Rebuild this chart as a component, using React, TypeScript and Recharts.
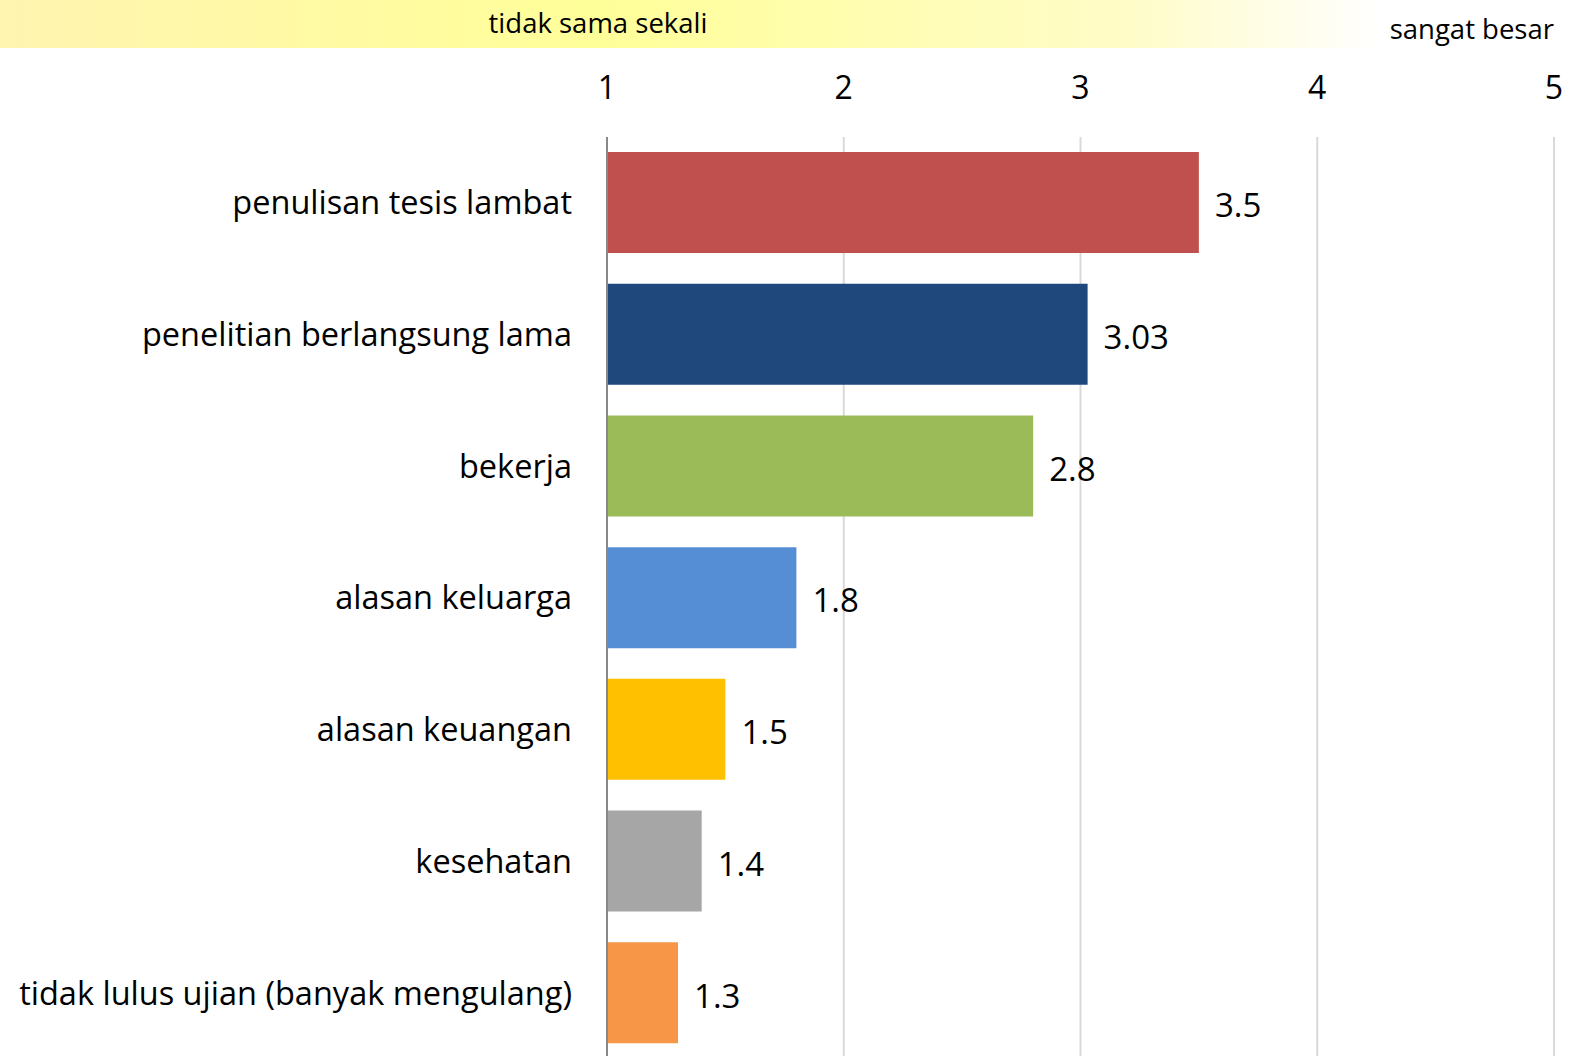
import { BarChart, Bar, XAxis, YAxis, CartesianGrid, Cell, LabelList } from "recharts";

const categories = [
  "penulisan tesis lambat",
  "penelitian berlangsung lama",
  "bekerja",
  "alasan keluarga",
  "alasan keuangan",
  "kesehatan",
  "tidak lulus ujian (banyak mengulang)",
];
const scores = [3.5, 3.03, 2.8, 1.8, 1.5, 1.4, 1.3];
const barColors = ["#C0504D", "#1F497D", "#9BBB59", "#558ED5", "#FFC000", "#A6A6A6", "#F79646"];
const scaleTicks = [1, 2, 3, 4, 5];
const scaleLow = "tidak sama sekali";
const scaleHigh = "sangat besar";

const FONT = "'Open Sans', 'Noto Sans', sans-serif";

const data = categories.map((name, i) => ({ name, score: scores[i] }));

function TopTick({ x, payload }: any) {
  return (
    <text x={x} y={99} textAnchor="middle" fontSize={32} fill="#000" fontFamily={FONT}>
      {payload.value}
    </text>
  );
}

function CatTick({ y, payload }: any) {
  return (
    <text x={572} y={y} dy="0.35em" textAnchor="end" fontSize={32.5} fill="#000" fontFamily={FONT}>
      {payload.value}
    </text>
  );
}

export default function App() {
  return (
    <div
      style={{
        position: "absolute",
        left: 0,
        top: 0,
        width: 1571,
        height: 1056,
        overflow: "hidden",
        background: "#fff",
        fontFamily: FONT,
      }}
    >
      {/* scale band on top */}
      <div
        style={{
          position: "absolute",
          left: 0,
          top: 0,
          width: 1571,
          height: 48,
          background:
            "linear-gradient(to right, #fff4b0 0%, #ffff99 38%, #fffcc8 72%, #ffffff 88%)",
        }}
      >
        <span style={{ position: "absolute", left: 598, top: 22, transform: "translate(-50%, -50%)", fontSize: 27.5, whiteSpace: "nowrap" }}>
          {scaleLow}
        </span>
        <span style={{ position: "absolute", right: 17, top: 28, transform: "translateY(-50%)", fontSize: 27.5, whiteSpace: "nowrap" }}>
          {scaleHigh}
        </span>
      </div>
      <div style={{ position: "absolute", left: 0, top: 0 }}>
        <BarChart
          width={1571}
          height={1062}
          data={data}
          layout="vertical"
          margin={{ top: 0, right: 17, bottom: 3, left: 0 }}
        >
          <CartesianGrid horizontal={false} stroke="#d9d9d9" strokeWidth={2} />
          <XAxis
            type="number"
            orientation="top"
            domain={[1, 5]}
            ticks={scaleTicks}
            height={137}
            axisLine={false}
            tickLine={false}
            tick={<TopTick />}
            interval={0}
          />
          <YAxis
            type="category"
            dataKey="name"
            width={607}
            axisLine={{ stroke: "#888", strokeWidth: 2 }}
            tickLine={false}
            tick={<CatTick />}
            interval={0}
          />
          <Bar dataKey="score" barSize={101} isAnimationActive={false}>
            {data.map((d, i) => (
              <Cell key={d.name} fill={barColors[i]} />
            ))}
            <LabelList
              dataKey="score"
              position="right"
              offset={16}
              dy={3}
              fill="#000"
              fontSize={33}
              fontFamily={FONT}
            />
          </Bar>
        </BarChart>
      </div>
    </div>
  );
}
